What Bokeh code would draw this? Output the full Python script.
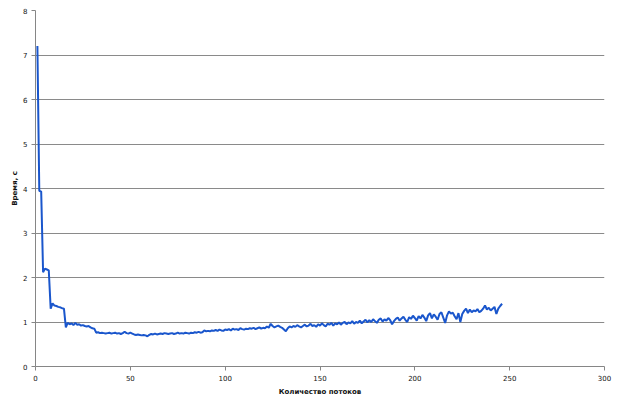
from bokeh.plotting import figure
from bokeh.models import Range1d, FixedTicker, ColumnDataSource
from bokeh.embed import file_html
from bokeh.resources import INLINE

threads = list(range(1, 247))
times = [
    7.2, 3.95, 3.93, 2.12, 2.2, 2.18, 2.16, 1.3, 1.42, 1.37,
    1.36, 1.34, 1.33, 1.31, 1.3, 0.88, 0.98, 0.95, 0.97, 0.93,
    0.98, 0.94, 0.95, 0.92, 0.93, 0.91, 0.9, 0.91, 0.88, 0.86,
    0.85, 0.76, 0.77, 0.75, 0.76, 0.75, 0.74, 0.75, 0.76, 0.74,
    0.75, 0.76, 0.74, 0.75, 0.73, 0.75, 0.78, 0.75, 0.74, 0.76,
    0.74, 0.72, 0.71, 0.72, 0.71, 0.7, 0.71, 0.7, 0.68, 0.71,
    0.73, 0.72, 0.74, 0.72, 0.73, 0.74, 0.73, 0.75, 0.74, 0.73,
    0.74, 0.75, 0.73, 0.74, 0.76, 0.74, 0.75, 0.74, 0.76, 0.75,
    0.74, 0.76, 0.75, 0.77, 0.76, 0.78, 0.76, 0.77, 0.81, 0.79,
    0.8, 0.79, 0.81, 0.8, 0.82, 0.8, 0.83, 0.81, 0.8, 0.83,
    0.82, 0.84, 0.81, 0.85, 0.83, 0.84, 0.82, 0.86, 0.84, 0.83,
    0.85, 0.84, 0.86, 0.85, 0.87, 0.84, 0.86, 0.88, 0.85, 0.87,
    0.86, 0.9, 0.87, 0.96, 0.91, 0.88, 0.9, 0.92, 0.89, 0.87,
    0.83, 0.79, 0.86, 0.9, 0.88, 0.91, 0.89, 0.93, 0.9, 0.88,
    0.91, 0.94, 0.9, 0.92, 0.96, 0.91, 0.93, 0.89, 0.95, 0.92,
    0.97, 0.93, 0.9, 0.96, 0.94, 0.98, 0.92, 0.97, 0.95, 0.99,
    0.94, 0.98, 1.0, 0.95, 0.99, 0.97, 1.02, 0.96, 1.0, 0.98,
    1.03, 0.97, 1.01, 1.05, 0.99, 1.04, 1.0, 1.06, 1.02, 0.98,
    1.05, 1.08, 1.01, 1.06, 1.03, 1.09, 1.04, 0.95, 1.02, 1.07,
    1.1, 1.03, 1.08, 1.12, 1.05, 1.0, 1.11, 1.07, 1.14, 1.09,
    1.03, 1.13, 1.08, 1.16, 1.1, 1.02, 1.15, 1.2, 1.08, 1.17,
    1.12, 1.05, 1.18, 1.22, 1.1, 0.98, 1.15, 1.24, 1.19, 1.21,
    1.13, 1.06, 1.2, 1.0, 1.18, 1.25, 1.3, 1.2, 1.28, 1.22,
    1.26, 1.24, 1.29, 1.22, 1.25, 1.3, 1.37, 1.28, 1.32, 1.26,
    1.3, 1.34, 1.18, 1.3, 1.36, 1.41,
]
x_ticks = [0, 50, 100, 150, 200, 250, 300]
y_ticks = [0, 1, 2, 3, 4, 5, 6, 7, 8]
x_title = "Количество потоков"
y_title = "Время, с"

src = ColumnDataSource(data=dict(x=threads, y=times))

p = figure(width=620, height=406, output_backend="svg", toolbar_location=None,
           x_range=Range1d(0, 300), y_range=Range1d(0, 8),
           min_border_left=35, min_border_right=16, min_border_top=10,
           min_border_bottom=40)
p.outline_line_color = None
p.background_fill_color = "white"
p.border_fill_color = "white"

p.line("x", "y", source=src, line_color="#1a56cc", line_width=2)

font = "DejaVu Sans"
for ax in (p.xaxis[0], p.yaxis[0]):
    ax.axis_line_color = "#868686"
    ax.major_tick_line_color = "#868686"
    ax.minor_tick_line_color = None
    ax.major_tick_in = 0
    ax.major_tick_out = 4
    ax.major_label_text_font = font
    ax.major_label_text_font_size = "7px"
    ax.major_label_text_color = "#111111"
    ax.axis_label_text_font = font
    ax.axis_label_text_font_size = "7px"
    ax.axis_label_text_font_style = "bold"
    ax.axis_label_text_color = "#111111"

p.xaxis[0].ticker = FixedTicker(ticks=x_ticks)
p.yaxis[0].ticker = FixedTicker(ticks=y_ticks)
p.xaxis[0].axis_label = x_title
p.yaxis[0].axis_label = y_title
p.xaxis[0].major_label_standoff = 4
p.yaxis[0].major_label_standoff = 4
p.xaxis[0].axis_label_standoff = 4
p.yaxis[0].axis_label_standoff = 1

p.xgrid.grid_line_color = None
p.ygrid.grid_line_color = "#8a8a8a"
p.ygrid.grid_line_width = 1
p.ygrid.ticker = FixedTicker(ticks=y_ticks)

open("out.html", "w").write(file_html(p, INLINE))
